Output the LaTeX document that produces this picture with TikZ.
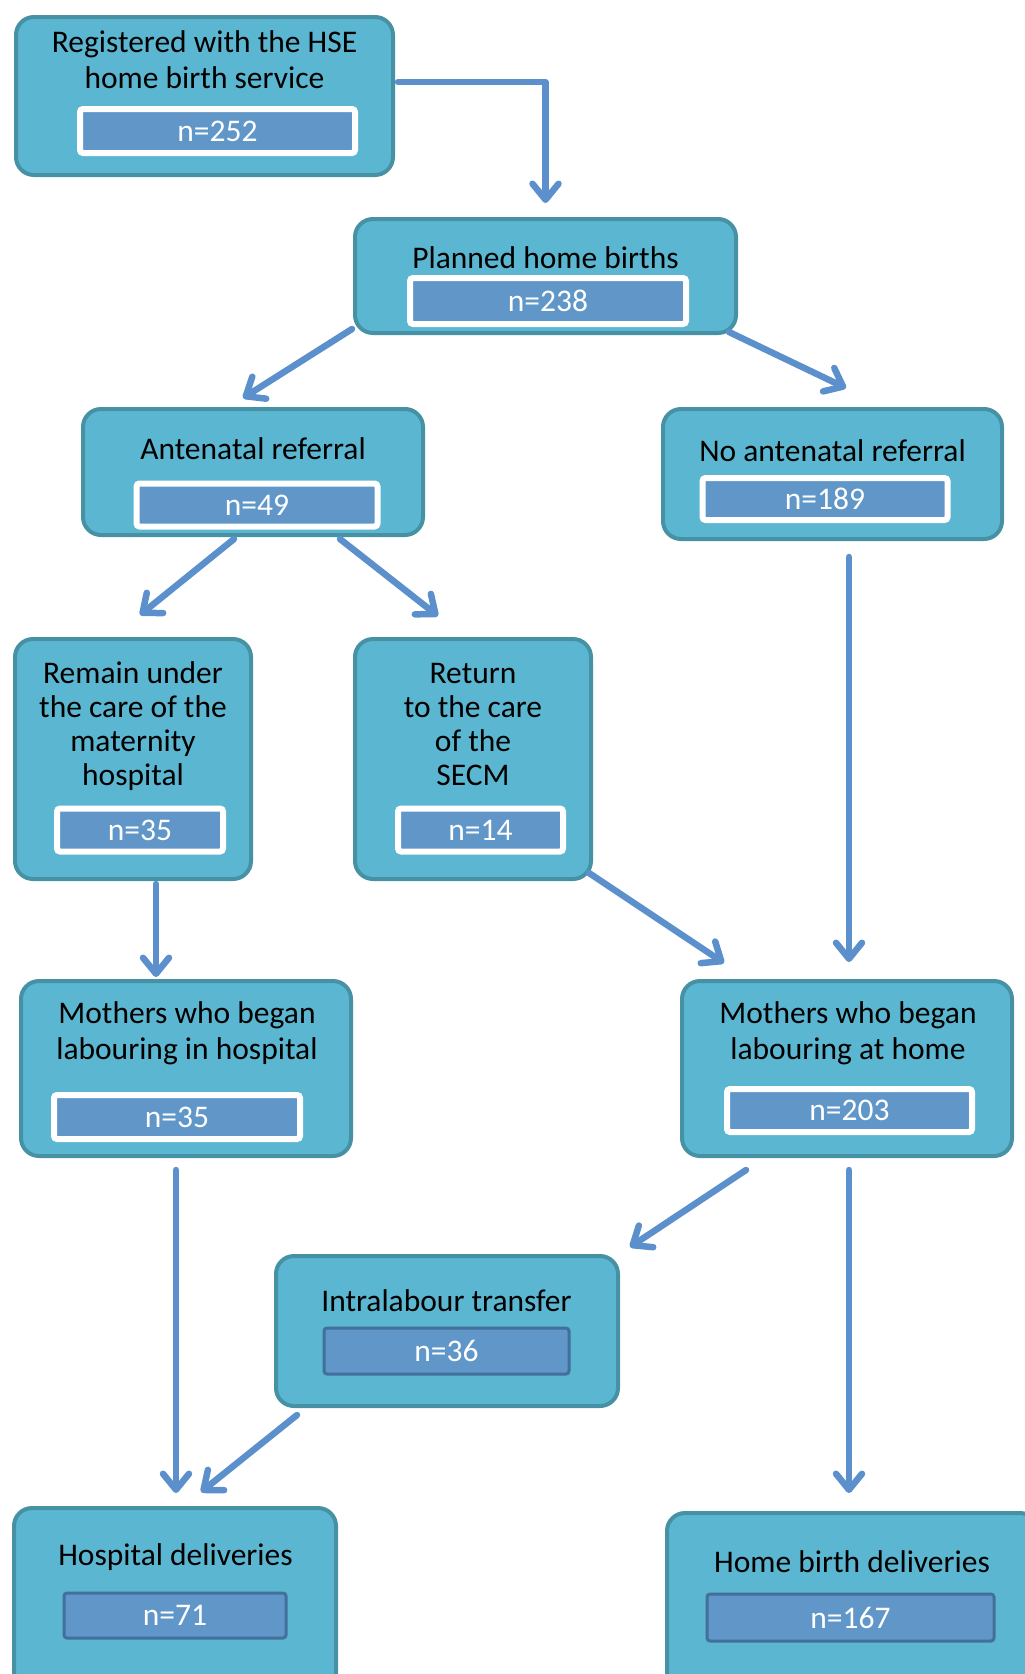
\documentclass[tikz,border=0pt]{standalone}
\usepackage{fontspec}
\setmainfont{Carlito}
\usetikzlibrary{arrows.meta}

\definecolor{stagefill}{RGB}{91,183,209}
\definecolor{stageline}{RGB}{70,145,163}
\definecolor{countfill}{RGB}{96,150,200}
\definecolor{countline}{RGB}{66,112,155}
\definecolor{flowblue}{RGB}{92,144,204}

\begin{document}
\begin{tikzpicture}
    [
      x=1pt, y=-1pt,
      stage/.style={draw=stageline,fill=stagefill,line width=4pt,
        rounded corners=18pt,inner sep=0pt},
      title/.style={anchor=base,align=center,inner sep=0pt,
        font=\fontsize{31.5}{35}\selectfont},
      count/.style={draw=white,fill=countfill,line width=6pt,rounded corners=3pt,
        inner sep=0pt,text=white,font=\fontsize{31.5}{35}\selectfont},
      tally/.style={count,draw=countline,line width=3pt},
      flow/.style={-{Straight Barb[length=16pt,width=26pt,round]},
        line width=6.5pt,draw=flowblue,line cap=round,line join=round}
    ]
    \useasboundingbox (0,0) rectangle (1025,1674);
    \clip (0,0) rectangle (1025,1674);

    % stages
    \node at (204.5,96) [stage,minimum width=377pt,minimum height=158pt] (reg) {};
    \node at (204.5,88) [title,font=\fontsize{31.5}{36}\selectfont] (regT)
      {Registered with the HSE\\home birth service};
    \node at (217.5,131) [count,minimum width=275pt,minimum height=44pt] (regN) {n=252};

    \node at (545.5,276) [stage,minimum width=381pt,minimum height=114pt] (plan) {};
    \node at (545.5,268) [title] (planT) {Planned home births};
    \node at (548,301) [count,minimum width=276pt,minimum height=46pt] (planN) {n=238};

    \node at (253,472) [stage,minimum width=340pt,minimum height=126pt] (ante) {};
    \node at (253,459) [title] (anteT) {Antenatal referral};
    \node at (257,505) [count,minimum width=241pt,minimum height=43pt] (anteN) {n=49};

    \node at (832.5,474) [stage,minimum width=339pt,minimum height=130pt] (noante) {};
    \node at (832.5,461) [title] (noanteT) {No antenatal referral};
    \node at (825,499) [count,minimum width=245pt,minimum height=42pt] (noanteN) {n=189};

    \node at (133,759) [stage,minimum width=236pt,minimum height=240pt] (remain) {};
    \node at (133,785) [title,font=\fontsize{31.5}{34}\selectfont] (remainT)
      {Remain under\\the care of the\\maternity\\hospital};
    \node at (140,830) [count,minimum width=166pt,minimum height=43pt] (remainN) {n=35};

    \node at (473,759) [stage,minimum width=236pt,minimum height=240pt] (ret) {};
    \node at (473,785) [title,font=\fontsize{31.5}{34}\selectfont] (retT)
      {Return\\to the care\\of the\\SECM};
    \node at (480.5,830) [count,minimum width=165pt,minimum height=43pt] (retN) {n=14};

    \node at (186,1068.5) [stage,minimum width=330pt,minimum height=175pt] (mhosp) {};
    \node at (187,1059) [title,font=\fontsize{31.5}{36}\selectfont] (mhospT)
      {Mothers who began\\labouring in hospital};
    \node at (177,1117) [count,minimum width=246pt,minimum height=44pt] (mhospN) {n=35};

    \node at (847,1068.5) [stage,minimum width=330pt,minimum height=175pt] (mhome) {};
    \node at (848,1059) [title,font=\fontsize{31.5}{36}\selectfont] (mhomeT)
      {Mothers who began\\labouring at home};
    \node at (849.5,1110.5) [count,minimum width=245pt,minimum height=43pt] (mhomeN) {n=203};

    \node at (447,1331) [stage,minimum width=342pt,minimum height=150pt] (intra) {};
    \node at (446.5,1311) [title] (intraT) {Intralabour transfer};
    \node at (446.5,1351) [tally,minimum width=245pt,minimum height=46pt] (intraN) {n=36};

    \node at (175,1619) [stage,minimum width=322pt,minimum height=222pt] (hdel) {};
    \node at (175.5,1565) [title] (hdelT) {Hospital deliveries};
    \node at (175,1615.5) [tally,minimum width=222pt,minimum height=45pt] (hdelN) {n=71};

    \node at (852.5,1621.5) [stage,minimum width=371pt,minimum height=217pt] (hbdel) {};
    \node at (852,1572) [title] (hbdelT) {Home birth deliveries};
    \node at (850.5,1617.5) [tally,minimum width=287pt,minimum height=47pt] (hbdelN) {n=167};

    % flows
    \draw [flow] ([xshift=3pt,yshift=14pt]reg.east) -| ([yshift=14pt]plan.north);
    \draw [flow] ([xshift=-1pt,yshift=6pt]plan.south west) -- ([xshift=-10pt,yshift=9pt]ante.north);
    \draw [flow] ([xshift=-9pt,yshift=3pt]plan.south east) -- ([xshift=13.5pt,yshift=19pt]noante.north);
    \draw [flow] ([xshift=-19pt,yshift=-2pt]ante.south) -- ([xshift=7pt,yshift=22pt]remain.north);
    \draw [flow] ([xshift=87pt,yshift=-2pt]ante.south) -- ([xshift=-35pt,yshift=21pt]ret.north);
    \draw [flow] ([xshift=16.5pt,yshift=-16pt]noante.south) -- ([xshift=2pt,yshift=17pt]mhome.north);
    \draw [flow] ([xshift=23pt,yshift=-3pt]remain.south) -- ([xshift=-30pt,yshift=2pt]mhosp.north);
    \draw [flow] ([xshift=-4pt,yshift=8pt]ret.south east) -- ([xshift=44pt,yshift=16pt]mhome.north west);
    \draw [flow] ([xshift=-10pt,yshift=-12pt]mhosp.south) -- ([xshift=1pt,yshift=13pt]hdel.north);
    \draw [flow] ([xshift=-101pt,yshift=-12pt]mhome.south) -- ([xshift=10pt,yshift=7pt]intra.north east);
    \draw [flow] ([xshift=2pt,yshift=-12pt]mhome.south) -- ([xshift=-3.5pt,yshift=18pt]hbdel.north);
    \draw [flow] ([xshift=23pt,yshift=-7pt]intra.south west) -- ([xshift=26pt,yshift=14pt]hdel.north);
\end{tikzpicture}
\end{document}
